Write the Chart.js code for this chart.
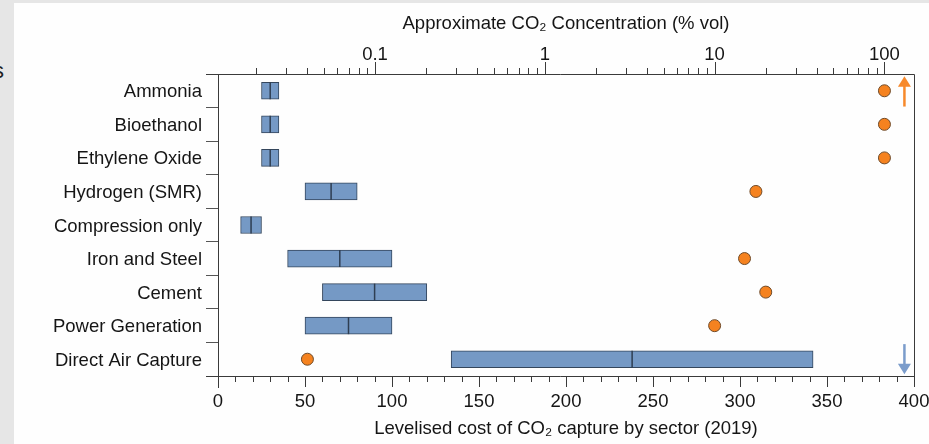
<!DOCTYPE html>
<html>
<head>
<meta charset="utf-8">
<script src="https://cdn.jsdelivr.net/npm/chart.js@4/dist/chart.umd.min.js"></script>
<style>
  body { margin: 0; background: #e6e6e6; width: 929px; height: 444px; overflow: hidden; position: relative; font-family: "Liberation Sans", Arial, sans-serif; }
  #cut { position: absolute; left: -7px; top: 58px; font-size: 22px; color: #222; }
  #wrap { position: absolute; left: 14px; top: 3px; width: 915px; height: 441px; background: #fefefe; }
</style>
</head>
<body>
<span id="cut">s</span>
<div id="wrap"><canvas id="chart" width="915" height="441"></canvas></div>
<script>
// sectors, top to bottom
const categories = ["Ammonia", "Bioethanol", "Ethylene Oxide", "Hydrogen (SMR)", "Compression only",
  "Iron and Steel", "Cement", "Power Generation", "Direct Air Capture"];
// levelised cost range (USD/t CO2)
const costLow  = [25, 25, 25, 50, 13, 40, 60, 50, 134];
const costHigh = [35, 35, 35, 80, 25, 100, 120, 100, 342];
const costMid  = [30, 30, 30, 65, 19, 70, 90, 75, 238];
// approximate CO2 concentration (% vol), null = not shown
const concentration = [100, 100, 100, 17.5, null, 15, 20, 10, 0.04];
// arrows at the right edge
const arrowCats = ["Ammonia", "Direct Air Capture"];
const arrowDirs = ["up", "down"];
const arrowCost = [394.5, 394.5];
// axis ticks
const costTicks = [0, 50, 100, 150, 200, 250, 300, 350, 400];
const concTicks = [0.1, 1, 10, 100];

const FONT = "'Liberation Sans', Arial, sans-serif";
const FSIZE = 18.5;
const TXT = "#151515";
const LINE = "#3a3a3a";

const framePlugin = {
  id: "frame",
  beforeDatasetsDraw(chart) {
    const { ctx, chartArea: a, scales } = chart;
    ctx.save();
    ctx.strokeStyle = LINE;
    ctx.lineWidth = 1;
    // box around plot
    ctx.beginPath();
    ctx.moveTo(a.left - 12, a.top + 0.5); ctx.lineTo(a.right + 0.5, a.top + 0.5);
    ctx.lineTo(a.right + 0.5, a.bottom + 0.5); ctx.lineTo(a.left - 12, a.bottom + 0.5);
    ctx.moveTo(a.left + 0.5, a.top); ctx.lineTo(a.left + 0.5, a.bottom + 12);
    ctx.stroke();

    // bottom cost ticks: minor every 10, major every 50
    const xb = scales.x;
    ctx.beginPath();
    for (let v = 0; v <= 400; v += 10) {
      const px = Math.round(xb.getPixelForValue(v)) + 0.5;
      const len = costTicks.includes(v) ? 11 : 6;
      ctx.moveTo(px, a.bottom); ctx.lineTo(px, a.bottom + len);
    }
    // top log ticks
    const xt = scales.xTop;
    for (let d = -2; d <= 2; d++) {
      for (let m = 1; m <= 9; m++) {
        const v = m * Math.pow(10, d);
        if (v < xt.min || v > xt.max) continue;
        const px = Math.round(xt.getPixelForValue(v)) + 0.5;
        const len = m === 1 ? 12 : 6;
        ctx.moveTo(px, a.top); ctx.lineTo(px, a.top - len);
      }
    }
    ctx.stroke();
    ctx.restore();
  },
  afterDatasetsDraw(chart) {
    const { ctx, scales } = chart;
    const y = scales.y, x = scales.x;
    const rowH = (y.bottom - y.top) / categories.length;
    ctx.save();
    arrowCats.forEach(function (cat, i) {
      const cx = x.getPixelForValue(arrowCost[i]);
      const cy = y.getPixelForValue(categories.indexOf(cat));
      const up = arrowDirs[i] === "up";
      const color = up ? "#f7892b" : "#7b9ccb";
      const tip = up ? cy - rowH * 0.43 : cy + rowH * 0.45;
      const tail = up ? cy + rowH * 0.47 : cy - rowH * 0.45;
      const dir = up ? 1 : -1;
      ctx.strokeStyle = color;
      ctx.fillStyle = color;
      ctx.lineWidth = 2.5;
      ctx.beginPath();
      ctx.moveTo(cx, tail); ctx.lineTo(cx, tip + dir * 8);
      ctx.stroke();
      ctx.beginPath();
      ctx.moveTo(cx, tip);
      ctx.lineTo(cx - 6.5, tip + dir * 10.5);
      ctx.lineTo(cx + 6.5, tip + dir * 10.5);
      ctx.closePath();
      ctx.fill();
    });
    ctx.restore();
  }
};

new Chart(document.getElementById("chart"), {
  type: "bar",
  data: {
    labels: categories,
    datasets: [
      {
        type: "bar",
        indexAxis: "y",
        data: categories.map((c, i) => [costLow[i], costHigh[i]]),
        backgroundColor: "#7599c5",
        borderColor: "#34465c",
        borderWidth: 1,
        borderSkipped: false,
        grouped: false,
        barThickness: 17,
        maxBarThickness: 17,
        xAxisID: "x",
        yAxisID: "y",
        order: 3
      },
      {
        type: "scatter",
        data: categories.map((c, i) => ({ x: costMid[i], y: c })),
        pointStyle: "line",
        rotation: 90,
        radius: 8.5,
        borderColor: "#2e3e52",
        borderWidth: 1.5,
        xAxisID: "x",
        yAxisID: "y",
        order: 2
      },
      {
        type: "scatter",
        data: categories.map((c, i) => ({ x: concentration[i], y: c })).filter(p => p.x !== null),
        pointStyle: "circle",
        radius: 6,
        backgroundColor: "#f5821f",
        borderColor: "#6f4b2a",
        borderWidth: 1,
        xAxisID: "xTop",
        yAxisID: "y",
        order: 1
      }
    ]
  },
  options: {
    responsive: false,
    animation: false,
    devicePixelRatio: 1,
    layout: { padding: { left: 0, right: 15, top: 0, bottom: 0 } },
    plugins: { legend: { display: false }, tooltip: { enabled: false } },
    scales: {
      x: {
        type: "linear",
        position: "bottom",
        offset: false,
        min: 0,
        max: 400,
        grid: { display: false, drawTicks: false, offset: false },
        border: { display: false },
        afterBuildTicks: s => { s.ticks = costTicks.map(v => ({ value: v })); },
        afterFit: s => { s.height = 68; s.paddingLeft = 0; s.paddingRight = 0; },
        ticks: { padding: 14.5, maxRotation: 0, autoSkip: false, color: TXT, font: { family: FONT, size: FSIZE } },
        title: {
          display: true,
          text: "Levelised cost of CO₂ capture by sector (2019)",
          color: TXT,
          font: { family: FONT, size: FSIZE },
          padding: { top: 0, bottom: 4 }
        }
      },
      xTop: {
        type: "logarithmic",
        axis: "x",
        position: "top",
        offset: false,
        min: 0.0119,
        max: 149.3,
        grid: { display: false, drawTicks: false, offset: false },
        border: { display: false },
        afterBuildTicks: s => { s.ticks = concTicks.map(v => ({ value: v })); },
        afterFit: s => { s.height = 71; s.paddingLeft = 0; s.paddingRight = 0; },
        ticks: { padding: 8, maxRotation: 0, autoSkip: false, color: TXT, font: { family: FONT, size: FSIZE },
          callback: v => String(v) },
        title: {
          display: true,
          text: "Approximate CO₂ Concentration (% vol)",
          color: TXT,
          font: { family: FONT, size: FSIZE },
          padding: { top: 10, bottom: 0 }
        }
      },
      y: {
        type: "category",
        offset: true,
        grid: { display: true, drawOnChartArea: false, offset: true, drawTicks: true, tickLength: 12, tickColor: "#555" },
        border: { display: false },
        afterFit: s => { s.width = 204; },
        ticks: { padding: 4, labelOffset: 1.5, color: TXT, font: { family: FONT, size: FSIZE } }
      }
    }
  },
  plugins: [framePlugin]
});
</script>
</body>
</html>
